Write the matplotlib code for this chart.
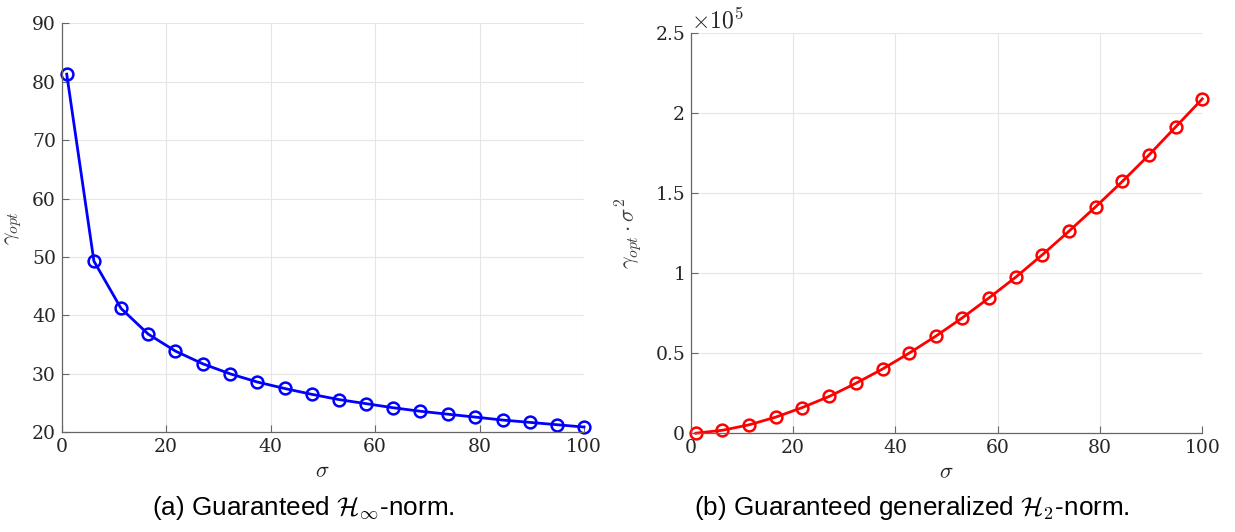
import matplotlib.pyplot as plt
from matplotlib.ticker import FuncFormatter

plt.rcParams['mathtext.fontset'] = 'cm'

# sigma values (x axis, both panels)
sigma = [1.0, 6.2, 11.4, 16.6, 21.8, 27.1, 32.3, 37.5, 42.7, 47.9,
         53.1, 58.3, 63.5, 68.7, 73.9, 79.2, 84.4, 89.6, 94.8, 100.0]

# (a) guaranteed H-inf norm
gamma_hinf = [81.3, 49.3, 41.2, 36.8, 33.9, 31.7, 30.0, 28.6, 27.5, 26.5,
              25.6, 24.9, 24.2, 23.6, 23.1, 22.6, 22.1, 21.7, 21.3, 20.9]

# (b) guaranteed generalized H2 norm, gamma * sigma^2
gamma_h2 = [80, 1900, 5300, 10100, 16100, 23100, 31300, 40200, 50100, 60700,
            72200, 84600, 97500, 111500, 126200, 141700, 157500, 174000, 191500, 209000]


def style_axes(ax):
    ax.grid(True, color='#e6e6e6', linewidth=0.8)
    ax.set_axisbelow(True)
    for s in ['top', 'right']:
        ax.spines[s].set_visible(False)
    for s in ['left', 'bottom']:
        ax.spines[s].set_color('#666666')
        ax.spines[s].set_linewidth(0.9)
    ax.tick_params(direction='in', length=5, width=0.8, color='#666666',
                   labelsize=13.5, labelcolor='#262626', pad=4)
    for lab in ax.get_xticklabels() + ax.get_yticklabels():
        lab.set_fontfamily('DejaVu Serif')


fig = plt.figure(figsize=(12.35, 5.32), dpi=100)

ax1 = fig.add_axes([0.0498, 0.1874, 0.4231, 0.7688])
ax1.plot(sigma, gamma_hinf, '-o', color='#0000ff', linewidth=2,
         markersize=8.5, markerfacecolor='none', markeredgewidth=1.8, clip_on=False)
ax1.set_xlim(0, 100)
ax1.set_ylim(20, 90)
ax1.set_xticks(range(0, 101, 20))
ax1.set_yticks(range(20, 91, 10))
style_axes(ax1)
ax1.set_xlabel(r'$\sigma$', fontsize=16, color='#262626', labelpad=4)
ax1.set_ylabel(r'$\gamma_{opt}$', fontsize=16, color='#404040', labelpad=6)

ax2 = fig.add_axes([0.5593, 0.1855, 0.4142, 0.7519])
ax2.plot(sigma, gamma_h2, '-o', color='#ff0000', linewidth=2,
         markersize=8.5, markerfacecolor='none', markeredgewidth=1.8, clip_on=False)
ax2.set_xlim(0, 100)
ax2.set_ylim(0, 2.5e5)
ax2.set_xticks(range(0, 101, 20))
ax2.set_yticks([0, 0.5e5, 1e5, 1.5e5, 2e5, 2.5e5])
ax2.yaxis.set_major_formatter(FuncFormatter(lambda v, p: '%g' % (v / 1e5)))
style_axes(ax2)
ax2.set_xlabel(r'$\sigma$', fontsize=16, color='#262626', labelpad=4)
ax2.set_ylabel(r'$\gamma_{opt}\cdot\sigma^2$', fontsize=16, color='#404040', labelpad=8)
ax2.text(0.0, 1.0, r'$\times10^5$', transform=ax2.transAxes, fontsize=17,
         color='#262626', ha='left', va='bottom')

fig.text(0.2457, 0.045, r'(a) Guaranteed $\mathcal{H}_\infty$-norm.',
         family='Liberation Sans', fontsize=18.8, ha='center', va='center')
fig.text(0.7385, 0.045, r'(b) Guaranteed generalized $\mathcal{H}_2$-norm.',
         family='Liberation Sans', fontsize=18.8, ha='center', va='center')

fig.savefig('out.png', dpi=100)
